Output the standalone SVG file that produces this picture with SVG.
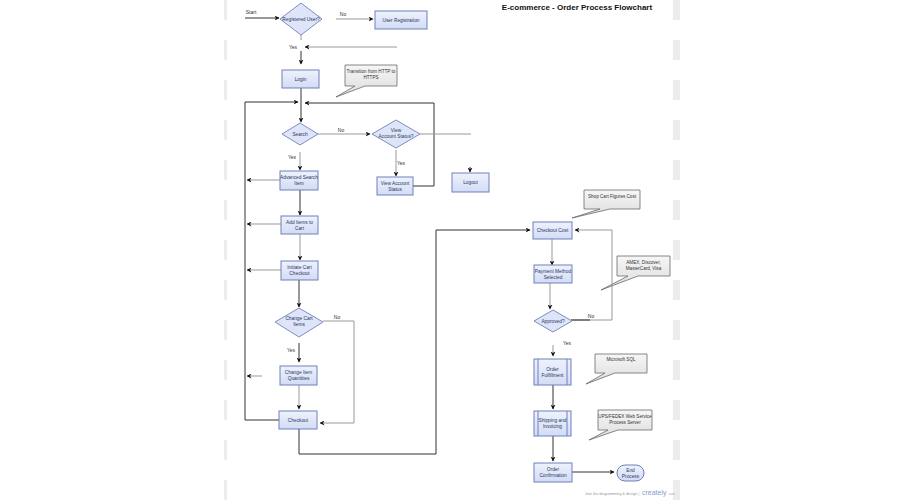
<svg xmlns="http://www.w3.org/2000/svg" width="900" height="500" viewBox="0 0 900 500">
<defs>
<linearGradient id="gBox" x1="0" y1="0" x2="0" y2="1"><stop offset="0" stop-color="#eef2fd"/><stop offset="1" stop-color="#d3dcf6"/></linearGradient>
<linearGradient id="gCall" x1="0" y1="0" x2="0" y2="1"><stop offset="0" stop-color="#f6f6f6"/><stop offset="1" stop-color="#dcdcdc"/></linearGradient>
<marker id="ah" viewBox="0 0 10 10" refX="9" refY="5" markerWidth="5" markerHeight="5" markerUnits="userSpaceOnUse" orient="auto"><path d="M0,0 L10,5 L0,10 L3,5 Z" fill="#111"/></marker>
<pattern id="edge" x="0" y="0" width="10" height="40" patternUnits="userSpaceOnUse"><rect x="0" y="0" width="10" height="20" fill="#ececec"/></pattern>
</defs>
<style>
.box{fill:url(#gBox);stroke:#6f80b8;stroke-width:1}
.dia{fill:#dfe5f8;stroke:#7e8dc2;stroke-width:1}
.call{fill:url(#gCall);stroke:#6a6a6a;stroke-width:0.8}
.t{font-family:"Liberation Sans",Arial,sans-serif;font-size:4.8px;fill:#2a3560;text-anchor:middle}
.lbl{font-family:"Liberation Sans",Arial,sans-serif;font-size:5px;fill:#333;text-anchor:middle}
.ct{font-family:"Liberation Sans",Arial,sans-serif;font-size:4.6px;fill:#333;text-anchor:middle}
.c{fill:none;stroke:#333;stroke-width:1}
.cg{fill:none;stroke:#999;stroke-width:1}
</style>
<rect width="900" height="500" fill="#fff"/>
<rect x="224" y="0" width="3" height="500" fill="url(#edge)"/>
<rect x="673" y="0" width="7" height="500" fill="url(#edge)"/>
<text x="577" y="10" font-family="Liberation Sans,Arial,sans-serif" font-size="8" font-weight="bold" fill="#111" text-anchor="middle">E-commerce - Order Process Flowchart</text>

<g id="connectors">
<path class="c" d="M245,18 H279" marker-end="url(#ah)"/>
<path class="cg" d="M336,19 H373" marker-end="url(#ah)"/>
<path class="cg" d="M301,35 V40"/>
<path class="c" d="M301,51 V64" marker-end="url(#ah)"/>
<path class="cg" d="M397,47 H305" marker-end="url(#ah)"/>
<path class="c" d="M301,88 V122" marker-end="url(#ah)"/>
<path class="c" d="M279,420 H245 V102 H298" marker-end="url(#ah)"/>
<path class="c" d="M413,186 H434 V103 H305" marker-end="url(#ah)"/>
<path class="cg" d="M318,134 H370" marker-end="url(#ah)"/>
<path class="cg" d="M420,134 H471"/>
<path class="c" d="M470,167 V172" marker-end="url(#ah)"/>
<path class="cg" d="M396,150 V176" marker-end="url(#ah)"/>
<path class="cg" d="M300,152 V170" marker-end="url(#ah)"/>
<path class="cg" d="M280,180 H247" marker-end="url(#ah)"/>
<path class="c" d="M300,190 V215" marker-end="url(#ah)"/>
<path class="cg" d="M281,224 H247" marker-end="url(#ah)"/>
<path class="cg" d="M300,234 V260" marker-end="url(#ah)"/>
<path class="cg" d="M281,270 H247" marker-end="url(#ah)"/>
<path class="c" d="M299,280 V307" marker-end="url(#ah)"/>
<path class="cg" d="M323,321 H354 V423 H320" marker-end="url(#ah)"/>
<path class="c" d="M299,343 V362" marker-end="url(#ah)"/>
<path class="cg" d="M262,376 H247" marker-end="url(#ah)"/>
<path class="cg" d="M299,385 V409" marker-end="url(#ah)"/>
<path class="c" d="M299,429 V454 H436 V230 H530" marker-end="url(#ah)"/>
<path class="cg" d="M571,320 H612 V230 H575" marker-end="url(#ah)"/>
<path class="c" d="M571,320 H590"/>
<path class="cg" d="M552,239 V265" marker-end="url(#ah)"/>
<path class="cg" d="M550,283 V309" marker-end="url(#ah)"/>
<path class="cg" d="M553,345 V356" marker-end="url(#ah)"/>
<path class="c" d="M553,385 V409" marker-end="url(#ah)"/>
<path class="c" d="M553,436 V461" marker-end="url(#ah)"/>
<path class="c" d="M572,472 H614" marker-end="url(#ah)"/>
<g>
<text class="lbl" x="251" y="14">Start</text>
<text class="lbl" x="343" y="16">No</text>
<text class="lbl" x="293" y="49">Yes</text>
<text class="lbl" x="341" y="132">No</text>
<text class="lbl" x="292" y="159">Yes</text>
<text class="lbl" x="401" y="165">Yes</text>
<text class="lbl" x="337" y="319">No</text>
<text class="lbl" x="291" y="352">Yes</text>
<text class="lbl" x="591" y="318">No</text>
<text class="lbl" x="567" y="345">Yes</text>
</g>
</g>

<g id="n-registered"><polygon class="dia" points="301,3 322,19 301,35 280,19"/><text class="t" x="301" y="20.5" font-size="4">Registered User?</text></g>
<g id="n-userreg"><rect class="box" x="375" y="11" width="52" height="18"/><text class="t" x="401" y="21.5">User Registration</text></g>
<g id="n-login"><rect class="box" x="282" y="70" width="37" height="18"/><text class="t" x="300.5" y="80.5">Login</text></g>
<g id="n-callout-https"><path class="call" d="M345,65 H397 V86 H365 L336,97 L355,86 H345 Z"/><text class="ct" x="371" y="73">Transition from HTTP to</text><text class="ct" x="371" y="79">HTTPS</text></g>
<g id="n-search"><polygon class="dia" points="300,123 318,134 300,145 282,134"/><text class="t" x="300" y="135.5">Search</text></g>
<g id="n-viewstatus-q"><polygon class="dia" points="396,120 420,134 396,148 372,134"/><text class="t" x="396" y="132">View</text><text class="t" x="396" y="138">Account Status?</text></g>
<g id="n-viewstatus"><rect class="box" x="377" y="177" width="36" height="18"/><text class="t" x="395" y="184.5">View Account</text><text class="t" x="395" y="190.5">Status</text></g>
<g id="n-logout"><rect class="box" x="452" y="173" width="37" height="19"/><text class="t" x="470.5" y="184">Logout</text></g>
<g id="n-advsearch"><rect class="box" x="280" y="171" width="38" height="19"/><text class="t" x="299" y="179">Advanced Search</text><text class="t" x="299" y="185">Item</text></g>
<g id="n-addcart"><rect class="box" x="281" y="216" width="37" height="18"/><text class="t" x="299.5" y="223.5">Add Items to</text><text class="t" x="299.5" y="229.5">Cart</text></g>
<g id="n-initcheckout"><rect class="box" x="281" y="261" width="37" height="19"/><text class="t" x="299.5" y="269">Initiate Cart</text><text class="t" x="299.5" y="275">Checkout</text></g>
<g id="n-changecart"><polygon class="dia" points="299,308 323,322 299,337 275,322"/><text class="t" x="299" y="320">Change Cart</text><text class="t" x="299" y="326">Items</text></g>
<g id="n-changeqty"><rect class="box" x="280" y="366" width="37" height="19"/><text class="t" x="298.5" y="374">Change Item</text><text class="t" x="298.5" y="380">Quantities</text></g>
<g id="n-checkout"><rect class="box" x="279" y="411" width="38" height="18"/><text class="t" x="298" y="421.5">Checkout</text></g>
<g id="n-checkoutcost"><rect class="box" x="533" y="222" width="39" height="17"/><text class="t" x="552.5" y="232">Checkout Cost</text></g>
<g id="n-callout-cost"><path class="call" d="M584,190 H640 V209 H610 L572,218 L600,209 H584 Z"/><text class="ct" x="612" y="198">Shop Cart Figures Cost</text></g>
<g id="n-payment"><rect class="box" x="534" y="265" width="38" height="18"/><text class="t" x="553" y="272.5">Payment Method</text><text class="t" x="553" y="278.5">Selected</text></g>
<g id="n-callout-cards"><path class="call" d="M617,256 H670 V276 H638 L601,290 L628,276 H617 Z"/><text class="ct" x="643.5" y="264">AMEX, Discover,</text><text class="ct" x="643.5" y="270">MasterCard, Visa</text></g>
<g id="n-approved"><polygon class="dia" points="553,310 572,321 553,332 534,321"/><text class="t" x="553" y="322.5">Approved?</text></g>
<g id="n-fulfillment"><rect class="box" x="534" y="359" width="37" height="26"/><line x1="538" y1="359" x2="538" y2="385" stroke="#6f80b8"/><line x1="567" y1="359" x2="567" y2="385" stroke="#6f80b8"/><text class="t" x="552.5" y="371">Order</text><text class="t" x="552.5" y="377">Fulfillment</text></g>
<g id="n-callout-sql"><path class="call" d="M595,354 H647 V373 H615 L586,384 L605,373 H595 Z"/><text class="ct" x="621" y="361">Microsoft SQL</text></g>
<g id="n-shipping"><rect class="box" x="534" y="411" width="37" height="25"/><line x1="538" y1="411" x2="538" y2="436" stroke="#6f80b8"/><line x1="567" y1="411" x2="567" y2="436" stroke="#6f80b8"/><text class="t" x="552.5" y="422">Shipping and</text><text class="t" x="552.5" y="428">Invoicing</text></g>
<g id="n-callout-ups"><path class="call" d="M598,410 H652 V430 H618 L589,440 L608,430 H598 Z"/><text class="ct" x="625" y="417.5">UPS/FEDEX Web Service</text><text class="ct" x="625" y="423.5">Process Server</text></g>
<g id="n-confirm"><rect class="box" x="534" y="463" width="38" height="19"/><text class="t" x="553" y="471">Order</text><text class="t" x="553" y="477">Confirmation</text></g>
<g id="n-end"><rect class="box" x="617" y="465" width="27" height="16" rx="8" ry="8"/><text class="t" x="630.5" y="471.5">End</text><text class="t" x="630.5" y="477.5">Process</text></g>
<text x="585" y="495" font-family="Liberation Sans,Arial,sans-serif" font-size="3.8" fill="#999">Join the diagramming &amp; design |</text>
<text x="642" y="495" font-family="Liberation Sans,Arial,sans-serif" font-size="7" fill="#8aa0c8">creately</text>
<text x="668" y="495" font-family="Liberation Sans,Arial,sans-serif" font-size="3.2" fill="#aaa">.com</text>
</svg>
